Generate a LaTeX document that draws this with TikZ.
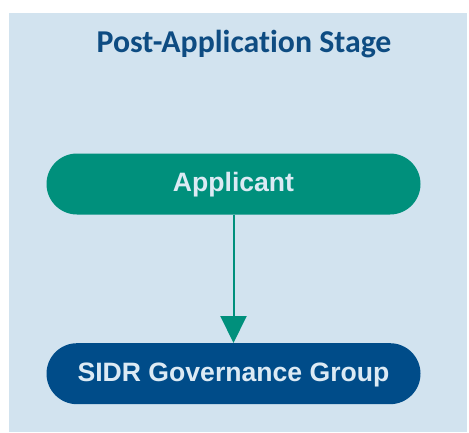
\documentclass[tikz,border=0pt]{standalone}
\usepackage{fontspec}
\setmainfont{Liberation Sans}
\newfontfamily\titlefont[Ligatures=NoCommon]{Carlito}
\usetikzlibrary{shapes.misc,arrows.meta}
\definecolor{panelbg}{HTML}{D2E3EF}
\definecolor{titleblue}{HTML}{0E4C82}
\definecolor{tealfill}{HTML}{00907C}
\definecolor{navyfill}{HTML}{004C89}
\definecolor{pilltext}{HTML}{DCEAF4}
\tikzset{
  pill/.style={rounded rectangle, minimum width=374pt, minimum height=61pt,
    inner sep=0pt, text=pilltext, text height=20pt, text depth=4.5pt,
    font=\fontsize{26.6}{30}\selectfont\bfseries},
  flow/.style={draw=tealfill, line width=2pt,
    -{Triangle[length=27pt,width=26pt]}}
}
\begin{document}
\begin{tikzpicture}[x=1pt,y=-1pt]
  \useasboundingbox (0,0) rectangle (469,432);
  % light panel behind the flow
  \fill[panelbg] (9,13) rectangle (467,432);
  \node[anchor=base, text=titleblue, font=\titlefont\fontsize{31.8}{36}\selectfont\bfseries]
    (title) at (244,52) {Post-Application Stage};
  \node[pill, fill=tealfill] (app) at (233.5,184) {Applicant};
  \node[pill, fill=navyfill] (sidr) at (233.5,373.7) {SIDR Governance Group};
  \draw[flow] (app.south) -- (sidr.north);
\end{tikzpicture}
\end{document}
